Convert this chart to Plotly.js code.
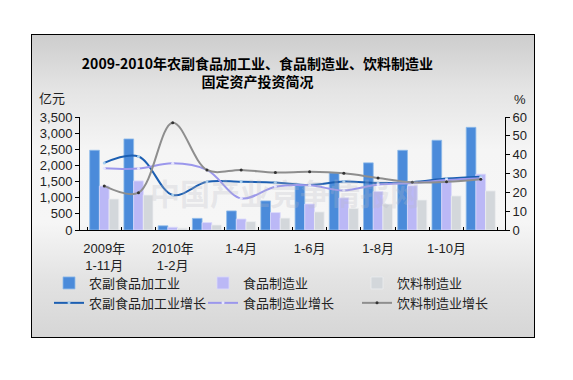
<!DOCTYPE html>
<html>
<head>
<meta charset="utf-8">
<script src="https://cdn.plot.ly/plotly-3.0.1.min.js"></script>
<style>
  html, body { margin: 0; padding: 0; background: #ffffff; }
  #wrap { position: relative; width: 573px; height: 380px; }
  #frame {
    position: absolute; left: 31px; top: 34px; width: 502px; height: 302px;
    border: 1px solid #000;
    background: linear-gradient(to bottom, #cdcdcd 0%, #e4e4e4 18%, #f5f5f5 38%, #f6f6f6 62%, #e2e2e2 82%, #d6d6d6 100%);
  }
  #chart { position: absolute; left: 0; top: 0; width: 573px; height: 380px; }
</style>
</head>
<body>
<div id="wrap">
  <div id="frame"></div>
  <div id="chart"></div>
</div>
<script>
// ---- data ----
const categories = ['2009年1-11月','2009年1-12月','2010年1-2月','2010年1-3月','2010年1-4月','2010年1-5月',
                    '2010年1-6月','2010年1-7月','2010年1-8月','2010年1-9月','2010年1-10月','2010年1-11月'];
const tickLabels = ['2009年<br>1-11月','','2010年<br>1-2月','','1-4月','','1-6月','','1-8月','','1-10月',''];

const agriInvest = [2470, 2820, 130, 360, 590, 900, 1370, 1770, 2080, 2470, 2780, 3180];
const foodInvest = [1360, 1520, 85, 230, 340, 540, 805, 995, 1190, 1370, 1600, 1730];
const bevInvest  = [960, 1085, 55, 155, 260, 370, 560, 672, 805, 930, 1055, 1210];

const agriGrowth = [35.6, 39.0, 18.6, 25.6, 25.6, 25.2, 23.9, 25.7, 25.0, 25.4, 27.3, 28.3];
const foodGrowth = [32.8, 32.6, 35.4, 31.9, 16.8, 23.0, 23.7, 21.0, 24.2, 25.0, 26.5, 27.5];
const bevGrowth  = [23.4, 19.8, 57.0, 31.9, 31.9, 30.5, 30.9, 30.1, 27.6, 25.3, 25.6, 27.0];

const seriesNames = ['农副食品加工业','食品制造业','饮料制造业','农副食品加工业增长','食品制造业增长','饮料制造业增长'];

// ---- chart ----
const FONT = 'Liberation Sans, Arial, "Noto Sans CJK SC", sans-serif';
const CJK = '"Noto Sans CJK SC", sans-serif';

const traces = [
  {type:'bar', name: seriesNames[0], x: categories, y: agriInvest,
   marker:{color:'#4b8bda', line:{color:'#8fbbea', width:0.8}}},
  {type:'bar', name: seriesNames[1], x: categories, y: foodInvest,
   marker:{color:'#bbb8f6', line:{color:'#dcdafb', width:0.8}}},
  {type:'bar', name: seriesNames[2], x: categories, y: bevInvest,
   marker:{color:'#d3d7db', line:{color:'#eceef0', width:0.8}}},
  {type:'scatter', mode:'lines+markers', name: seriesNames[3], x: categories, y: agriGrowth, yaxis:'y2',
   line:{color:'#1c5fb2', width:2, shape:'spline'}, marker:{color:'#a8d0f0', size:3}},
  {type:'scatter', mode:'lines+markers', name: seriesNames[4], x: categories, y: foodGrowth, yaxis:'y2',
   line:{color:'#9b97ec', width:2, shape:'spline'}, marker:{color:'#e6e6ff', size:3}},
  {type:'scatter', mode:'lines+markers', name: seriesNames[5], x: categories, y: bevGrowth, yaxis:'y2',
   line:{color:'#8e8e8e', width:2, shape:'spline'}, marker:{color:'#333333', size:3}}
];

const layout = {
  width: 573, height: 380,
  paper_bgcolor: 'rgba(0,0,0,0)', plot_bgcolor: 'rgba(0,0,0,0)',
  margin: {l: 80, r: 68, t: 117, b: 150, pad: 0},
  font: {family: FONT, size: 13, color: '#222'},
  title: {
    text: '2009-2010年农副食品加工业、食品制造业、饮料制造业<br>固定资产投资简况',
    font: {family: CJK, size: 14, color: '#000', weight: 'bold'},
    xref: 'container', x: 257.5/573, xanchor: 'center',
    yref: 'container', y: 1 - 68.5/380, yanchor: 'middle'
  },
  barmode: 'group', bargap: 0.15, bargroupgap: 0,
  showlegend: true,
  legend: {
    orientation: 'h', xref: 'paper', yref: 'paper',
    x: (49-80)/425, xanchor: 'left', y: -(268-230)/113, yanchor: 'top',
    entrywidth: 109, entrywidthmode: 'pixels',
    font: {family: CJK, size: 13, color: '#222'},
    bgcolor: 'rgba(0,0,0,0)', traceorder: 'normal', itemwidth: 30
  },
  xaxis: {
    type: 'category', showline: true, linecolor: '#000', linewidth: 1,
    ticks: 'inside', tickson: 'boundaries', ticklen: 3, tickcolor: '#000',
    tickmode: 'array', tickvals: categories, ticktext: tickLabels,
    tickangle: 0, showgrid: false, zeroline: false, ticklabelstandoff: 6,
    tickfont: {family: FONT, size: 13, color: '#222'}
  },
  yaxis: {
    range: [0, 3500], dtick: 500, tickformat: ',d',
    showline: true, linecolor: '#000', linewidth: 1,
    ticks: 'outside', ticklen: 4, tickcolor: '#000',
    showgrid: false, zeroline: false,
    tickfont: {family: FONT, size: 13, color: '#222'}
  },
  yaxis2: {
    range: [0, 60], dtick: 10, overlaying: 'y', side: 'right',
    showline: true, linecolor: '#000', linewidth: 1,
    ticks: 'outside', ticklen: 4, tickcolor: '#000',
    showgrid: false, zeroline: false,
    tickfont: {family: FONT, size: 13, color: '#222'}
  },
  annotations: [
    {text: '亿元', showarrow: false, xref:'paper', yref:'paper',
     x: (37-80)/425, xanchor:'left', y: (230-97)/113, yanchor:'middle',
     font: {family: CJK, size: 13, color: '#222'}},
    {text: '%', showarrow: false, xref:'paper', yref:'paper',
     x: (520-80)/425, xanchor:'center', y: (230-99)/113, yanchor:'middle',
     font: {family: FONT, size: 13, color: '#222'}},
    {text: '中国产业竞争情报网', showarrow: false, xref:'paper', yref:'paper',
     x: (285-80)/425, xanchor:'center', y: (230-192)/113, yanchor:'middle',
     font: {family: CJK, size: 30, color: 'rgba(185,185,195,0.26)', weight: 'bold'}}
  ]
};

Plotly.newPlot('chart', traces, layout, {displayModeBar: false, staticPlot: true});
</script>
</body>
</html>
